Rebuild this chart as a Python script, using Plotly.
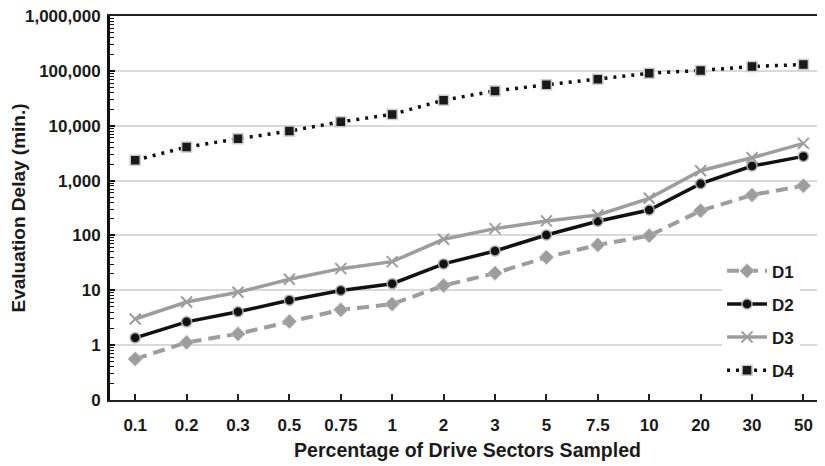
import plotly.graph_objects as go

categories = ["0.1", "0.2", "0.3", "0.5", "0.75", "1", "2", "3", "5", "7.5", "10", "20", "30", "50"]
d1 = [0.56, 1.12, 1.61, 2.7, 4.4, 5.6, 12.2, 20.5, 40, 67, 99, 282, 546, 805]
d2 = [1.36, 2.66, 4.05, 6.6, 9.9, 13.2, 30.3, 52, 102, 181, 291, 877, 1840, 2760]
d3 = [3.0, 6.1, 9.2, 15.9, 24.8, 33.3, 85, 133, 184, 236, 475, 1510, 2605, 4760]
d4 = [2350, 4080, 5780, 7980, 11780, 16060, 29250, 43150, 55570, 70500, 90600, 101600, 120000, 130600]

y_tickvals = [0.1, 1, 10, 100, 1000, 10000, 100000, 1000000]
y_ticktext = ["0", "1", "10", "100", "1,000", "10,000", "100,000", "1,000,000"]

GRAY = "#9d9d9d"
FONT = "Liberation Sans, Arial, sans-serif"

fig = go.Figure()
fig.add_trace(go.Scatter(
    x=categories, y=d1, name="D1", mode="lines+markers", legendgroup="a",
    line=dict(color=GRAY, width=4, dash="12px,7px"),
    marker=dict(symbol="diamond", size=11, color=GRAY, line=dict(color="#bdbdbd", width=1)),
))
fig.add_trace(go.Scatter(
    x=categories, y=d2, name="D2", mode="lines+markers", legendgroup="b",
    line=dict(color="#111111", width=3.5),
    marker=dict(symbol="circle", size=10, color="#111111", line=dict(color="#aaaaaa", width=1.5)),
))
fig.add_trace(go.Scatter(
    x=categories, y=d3, name="D3", mode="lines+markers", legendgroup="c",
    line=dict(color=GRAY, width=3.5),
    marker=dict(symbol="x-thin", size=11, color=GRAY, line=dict(color=GRAY, width=2)),
))
fig.add_trace(go.Scatter(
    x=categories, y=d4, name="D4", mode="lines+markers", legendgroup="d",
    line=dict(color="#111111", width=3.5, dash="3px,6px"),
    marker=dict(symbol="square", size=10, color="#1a1a1a", line=dict(color="#cccccc", width=1.5)),
))

fig.update_layout(
    width=817, height=458,
    margin=dict(l=102, r=0, t=8, b=66, autoexpand=False),
    paper_bgcolor="white", plot_bgcolor="white",
    font=dict(family=FONT, color="#1a1a1a"),
    showlegend=True,
    legend=dict(
        x=0.856, y=0.382, xanchor="left", yanchor="top",
        bgcolor="white", borderwidth=0,
        font=dict(family=FONT, size=17, color="#1a1a1a", weight="bold"),
        tracegroupgap=8, traceorder="grouped",
        itemwidth=40,
    ),
    xaxis=dict(
        type="category", categoryorder="array", categoryarray=categories,
        range=[-0.49, 13.42], automargin=False,
        showgrid=False, zeroline=False,
        showline=True, linecolor="#222222", linewidth=2, mirror=True,
        ticks="inside", ticklen=6, tickwidth=1.5, tickcolor="#222222",
        tickfont=dict(family=FONT, size=17, color="#1a1a1a", weight="bold"),
        ticklabelstandoff=9, ticklabeloverflow="allow",
        title=dict(text="Percentage of Drive Sectors Sampled",
                   font=dict(family=FONT, size=19.5, color="#1a1a1a", weight="bold"),
                   standoff=9),
    ),
    yaxis=dict(
        type="log", range=[-1, 6], automargin=False,
        tickvals=y_tickvals, ticktext=y_ticktext,
        showgrid=True, gridcolor="#d9d9d9", gridwidth=1.5,
        zeroline=False,
        showline=True, linecolor="#111111", linewidth=3,
        ticks="inside", ticklen=5, tickwidth=1.5, tickcolor="#111111",
        minor=dict(ticks="inside", ticklen=4, tickwidth=1.2, tickcolor="#111111",
                   dtick="D1", showgrid=False),
        tickfont=dict(family=FONT, size=17, color="#1a1a1a", weight="bold"),
        ticklabelstandoff=3, ticklabeloverflow="allow",
        title=dict(text="Evaluation Delay (min.)",
                   font=dict(family=FONT, size=19, color="#1a1a1a", weight="bold"),
                   standoff=3),
    ),
)

fig.write_html("out.html")
